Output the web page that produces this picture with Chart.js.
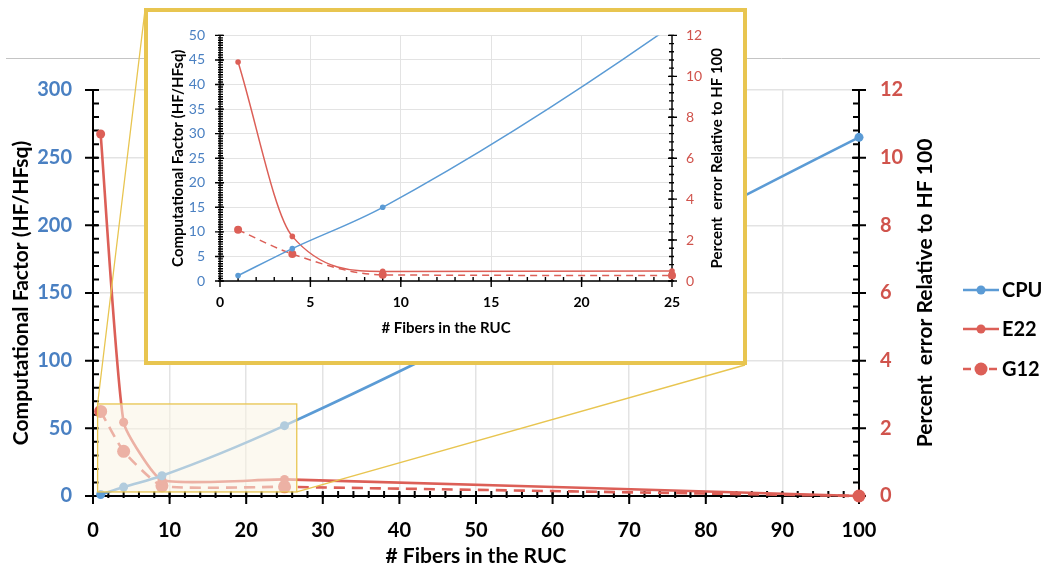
<!DOCTYPE html>
<html>
<head>
<meta charset="utf-8">
<script src="https://cdn.jsdelivr.net/npm/chart.js@4.4.1/dist/chart.umd.min.js"></script>
<style>
  html, body { margin: 0; padding: 0; background: #fff; }
  #wrap { position: relative; width: 1042px; height: 573px; overflow: hidden; }
  #main { position: absolute; left: 0; top: 0; }
  #inset {
    position: absolute; left: 144px; top: 8px; width: 603px; height: 357px;
    box-sizing: border-box; border: 4px solid #e8c550; background: #fff;
  }
  #insetChart { display: block; }
</style>
</head>
<body>
<div id="wrap">
  <canvas id="main" width="1042" height="573"></canvas>
  <div id="inset"><canvas id="insetChart" width="595" height="349"></canvas></div>
</div>
<script>
const FIBERS = [1, 4, 9, 25, 100];
const CPU = [1.1, 6.6, 15, 52, 265];
const E22 = [10.7, 2.18, 0.47, 0.49, 0];
const G12 = [2.5, 1.32, 0.3, 0.27, 0];

const BLUE = '#5b9bd5';
const RED = '#dc5f57';
const BLUE_TEXT = '#4a80c2';
const RED_TEXT = '#d0534c';
const GOLD = '#e8c550';
const FONT = 'Lato, "Open Sans", sans-serif';

// shaded region on the main plot (x in fibers, y on the left axis)
const ZOOM_REGION = { x0: 0.6, x1: 26.6, y0: 3, y1: 68 };
// corners of the inset frame on the page
const INSET_BOX = { left: 144, top: 8, right: 747, bottom: 365 };

const points = ys => FIBERS.map((x, i) => ({ x, y: ys[i] }));

function makeDatasets(big) {
  const w = big ? 2.6 : 1.5;
  const common = { borderWidth: w, pointBorderWidth: 0, pointHoverRadius: 0, cubicInterpolationMode: 'monotone' };
  // the big plot uses a light spline for the error curves so the long tail eases down
  const errCurve = big ? { cubicInterpolationMode: 'default', tension: 0.15 } : {};
  return [
    { ...common, label: 'CPU', data: points(CPU), yAxisID: 'y', borderColor: BLUE, backgroundColor: BLUE, pointRadius: big ? 4.5 : 2.8 },
    { ...common, ...errCurve, label: 'E22', data: points(E22), yAxisID: 'y1', borderColor: RED, backgroundColor: RED, pointRadius: big ? 4.5 : 2.8 },
    { ...common, ...errCurve, label: 'G12', data: points(G12), yAxisID: 'y1', borderColor: RED, backgroundColor: RED, borderDash: big ? [11, 7] : [7, 5], pointRadius: big ? 6.5 : 4 }
  ];
}

// axis lines with major / minor tick marks (out = away from plot, in = into plot)
function drawAxes(chart, spec) {
  const { ctx, chartArea: a, scales } = chart;
  ctx.save();
  ctx.strokeStyle = '#000';
  ctx.lineWidth = spec.lineWidth;
  ctx.beginPath();
  ctx.moveTo(a.left, a.top); ctx.lineTo(a.left, a.bottom); ctx.lineTo(a.right, a.bottom);
  ctx.moveTo(a.right, a.top); ctx.lineTo(a.right, a.bottom);
  ctx.stroke();

  const marks = (scale, side, step, out, inn) => {
    const n = Math.round((scale.max - scale.min) / step);
    ctx.beginPath();
    for (let i = 0; i <= n; i++) {
      const p = scale.getPixelForValue(scale.min + i * step);
      if (side === 'bottom') { ctx.moveTo(p, a.bottom - inn); ctx.lineTo(p, a.bottom + out); }
      if (side === 'left') { ctx.moveTo(a.left - out, p); ctx.lineTo(a.left + inn, p); }
      if (side === 'right') { ctx.moveTo(a.right + out, p); ctx.lineTo(a.right - inn, p); }
    }
    ctx.stroke();
  };
  for (const [id, side] of [['x', 'bottom'], ['y', 'left'], ['y1', 'right']]) {
    const s = spec[id];
    marks(scales[id], side, s.minor, s.minorOut, s.minorIn);
    marks(scales[id], side, s.major, s.majorOut, s.majorIn);
  }
  ctx.restore();
}

function drawVerticalTitle(ctx, text, x, y, size) {
  ctx.save();
  ctx.translate(x, y);
  ctx.rotate(-Math.PI / 2);
  ctx.font = `bold ${size}px ${FONT}`;
  ctx.fillStyle = '#000';
  ctx.textAlign = 'center';
  ctx.textBaseline = 'middle';
  ctx.fillText(text, 0, 0);
  ctx.restore();
}

const mainDecor = {
  id: 'mainDecor',
  beforeDraw(chart) {
    const ctx = chart.ctx;
    ctx.save();
    ctx.strokeStyle = '#c4c4c4';
    ctx.lineWidth = 1;
    ctx.beginPath();
    ctx.moveTo(6, 58.5); ctx.lineTo(1040, 58.5);
    ctx.stroke();
    ctx.restore();
  },
  beforeDatasetsDraw(chart) {
    drawAxes(chart, {
      lineWidth: 2,
      x: { major: 10, majorOut: 8, majorIn: 4, minor: 2, minorOut: 2, minorIn: 5 },
      y: { major: 50, majorOut: 8, majorIn: 5, minor: 10, minorOut: 0, minorIn: 6 },
      y1: { major: 2, majorOut: 7, majorIn: 7, minor: 0.4, minorOut: 0, minorIn: 6 }
    });
  },
  afterDatasetsDraw(chart) {
    const { ctx, scales } = chart;
    const x0 = scales.x.getPixelForValue(ZOOM_REGION.x0);
    const x1 = scales.x.getPixelForValue(ZOOM_REGION.x1);
    const y0 = scales.y.getPixelForValue(ZOOM_REGION.y0);
    const y1 = scales.y.getPixelForValue(ZOOM_REGION.y1);
    ctx.save();
    ctx.fillStyle = 'rgba(250, 244, 228, 0.55)';
    ctx.fillRect(x0, y1, x1 - x0, y0 - y1);
    ctx.strokeStyle = GOLD;
    ctx.lineWidth = 1.3;
    ctx.strokeRect(x0, y1, x1 - x0, y0 - y1);
    ctx.beginPath();
    ctx.moveTo(x0, y1); ctx.lineTo(INSET_BOX.left + 1, INSET_BOX.top + 2);
    ctx.moveTo(x1, y0); ctx.lineTo(INSET_BOX.right - 2, INSET_BOX.bottom);
    ctx.stroke();
    ctx.restore();
  },
  afterDraw(chart) {
    const { ctx, chartArea: a } = chart;
    drawVerticalTitle(ctx, 'Percent  error Relative to HF 100', 925, (a.top + a.bottom) / 2, 21);

    const rows = [290, 329, 369];
    chart.data.datasets.forEach((ds, i) => {
      const y = rows[i];
      ctx.save();
      ctx.strokeStyle = ds.borderColor;
      ctx.lineWidth = ds.borderWidth;
      ctx.setLineDash(ds.borderDash ? [8, 5] : []);
      ctx.beginPath();
      ctx.moveTo(963, y); ctx.lineTo(999, y);
      ctx.stroke();
      ctx.setLineDash([]);
      ctx.fillStyle = ds.backgroundColor;
      ctx.beginPath();
      ctx.arc(981, y, ds.pointRadius, 0, Math.PI * 2);
      ctx.fill();
      ctx.font = `bold 20px ${FONT}`;
      ctx.fillStyle = '#000';
      ctx.textBaseline = 'middle';
      ctx.fillText(ds.label, 1002, y + 1);
      ctx.restore();
    });
  }
};

const insetDecor = {
  id: 'insetDecor',
  beforeDatasetsDraw(chart) {
    drawAxes(chart, {
      lineWidth: 1.4,
      x: { major: 5, majorOut: 6, majorIn: 4, minor: 1, minorOut: 0, minorIn: 4 },
      y: { major: 5, majorOut: 5, majorIn: 4, minor: 0.5, minorOut: 2, minorIn: 3 },
      y1: { major: 2, majorOut: 5, majorIn: 4, minor: 0.4, minorOut: 2, minorIn: 3 }
    });
  },
  afterDraw(chart) {
    const a = chart.chartArea;
    drawVerticalTitle(chart.ctx, 'Percent  error Relative to HF 100', 569, (a.top + a.bottom) / 2, 15);
  }
};

const gridColor = '#e3e3e3';

new Chart(document.getElementById('main'), {
  type: 'line',
  data: { datasets: makeDatasets(true) },
  options: {
    responsive: false,
    animation: false,
    clip: false,
    layout: { padding: { top: 90, right: 83, left: 0, bottom: 0 } },
    plugins: { legend: { display: false }, tooltip: { enabled: false } },
    scales: {
      x: {
        type: 'linear', min: 0, max: 100,
        ticks: { stepSize: 10, padding: 23, maxRotation: 0, color: '#000', font: { family: FONT, size: 20, weight: 'bold' } },
        grid: { color: gridColor, lineWidth: 1.5, drawTicks: false },
        border: { display: false },
        title: { display: true, text: '# Fibers in the RUC', color: '#000', padding: { top: 4, bottom: 4 }, font: { family: FONT, size: 21, weight: 'bold' } },
        afterFit: s => { s.height = 77; }
      },
      y: {
        position: 'left', min: 0, max: 300,
        ticks: { stepSize: 50, padding: 21, color: BLUE_TEXT, font: { family: FONT, size: 20, weight: 'bold' } },
        grid: { color: gridColor, lineWidth: 1.5, drawTicks: false },
        border: { display: false },
        title: { display: true, text: 'Computational Factor (HF/HFsq)', color: '#000', padding: { top: 9, bottom: 0 }, font: { family: FONT, size: 21, weight: 'bold' } },
        afterFit: s => { s.width = 93; }
      },
      y1: {
        position: 'right', min: 0, max: 12,
        ticks: { stepSize: 2, padding: 21, color: RED_TEXT, font: { family: FONT, size: 20, weight: 'bold' } },
        grid: { display: false, drawTicks: false },
        border: { display: false },
        afterFit: s => { s.width = 100; }
      }
    }
  },
  plugins: [mainDecor]
});

new Chart(document.getElementById('insetChart'), {
  type: 'line',
  data: { datasets: makeDatasets(false) },
  options: {
    responsive: false,
    animation: false,
    clip: { left: 5, top: 0, right: 6, bottom: 5 },
    layout: { padding: { top: 17, right: 0, left: 0, bottom: 0 } },
    plugins: { legend: { display: false }, tooltip: { enabled: false } },
    scales: {
      x: {
        type: 'linear', min: 0, max: 25,
        ticks: { stepSize: 5, padding: 13, maxRotation: 0, color: '#000', font: { family: FONT, size: 14, weight: 'bold' } },
        grid: { color: gridColor, lineWidth: 1, drawTicks: false },
        border: { display: false },
        title: { display: true, text: '# Fibers in the RUC', color: '#000', padding: { top: 4, bottom: 24 }, font: { family: FONT, size: 15, weight: 'bold' } },
        afterFit: s => { s.height = 80; }
      },
      y: {
        position: 'left', min: 0, max: 50,
        ticks: { stepSize: 5, padding: 15, color: BLUE_TEXT, font: { family: FONT, size: 14 } },
        grid: { color: gridColor, lineWidth: 1, drawTicks: false },
        border: { display: false },
        title: { display: true, text: 'Computational Factor (HF/HFsq)', color: '#000', padding: { top: 21, bottom: 0 }, font: { family: FONT, size: 15, weight: 'bold' } },
        afterFit: s => { s.width = 72; }
      },
      y1: {
        position: 'right', min: 0, max: 12,
        ticks: { stepSize: 2, padding: 14, color: RED_TEXT, font: { family: FONT, size: 14 } },
        grid: { display: false, drawTicks: false },
        border: { display: false },
        afterFit: s => { s.width = 71; }
      }
    }
  },
  plugins: [insetDecor]
});
</script>
</body>
</html>
